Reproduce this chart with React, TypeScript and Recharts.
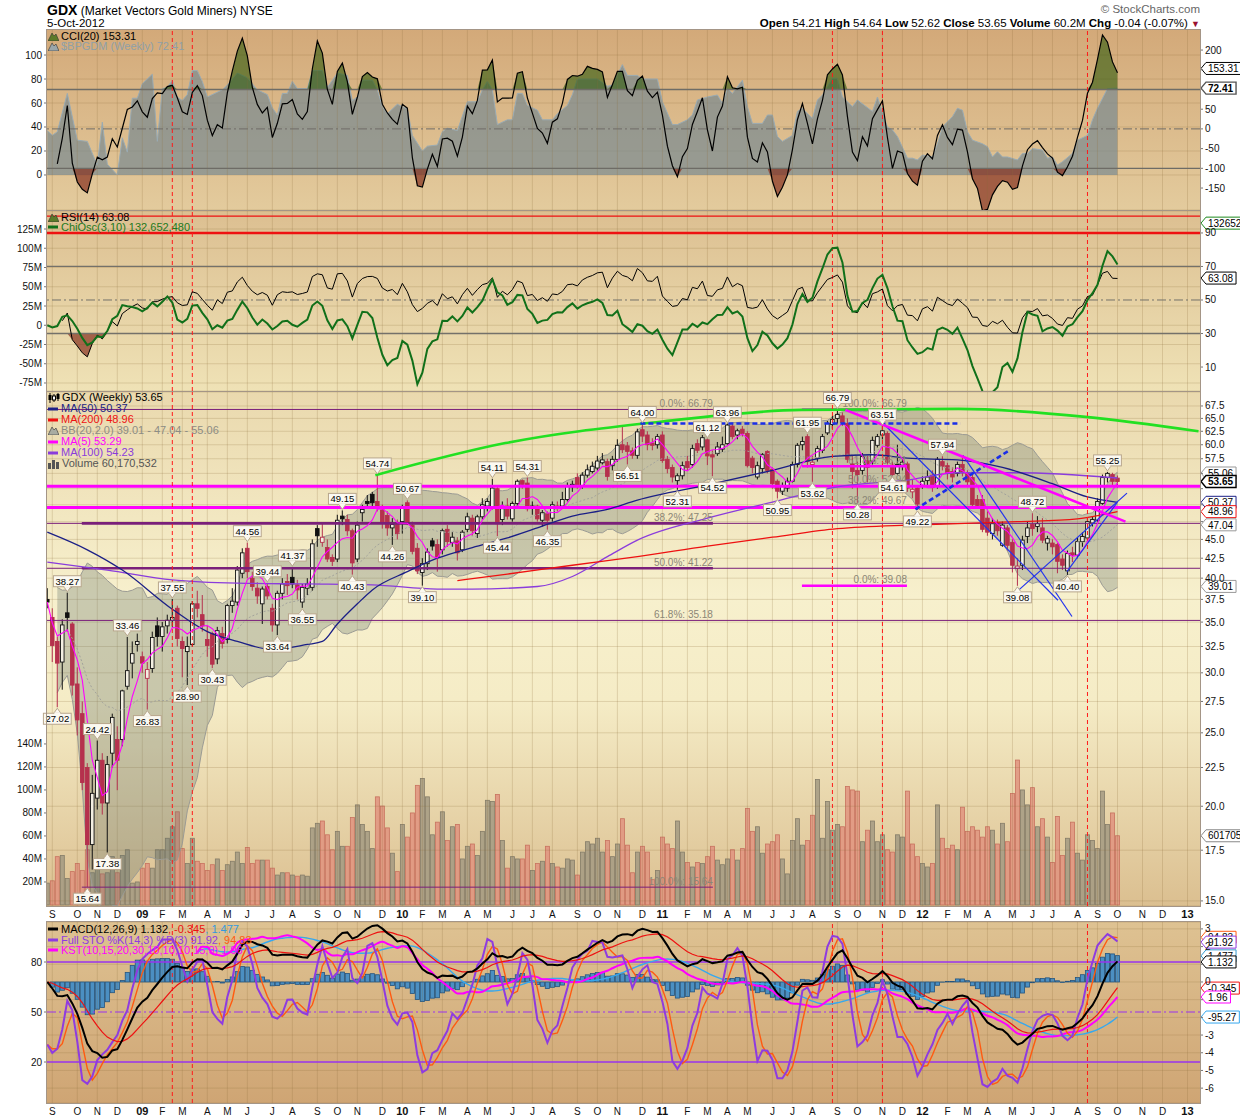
import React from 'react';
import {
  ComposedChart,
  Line,
  Area,
  Bar,
  XAxis,
  YAxis,
  CartesianGrid,
  ReferenceLine,
  ReferenceDot,
} from 'recharts';

document.body.style.margin = '0';

const FONT = '"Liberation Sans", Arial, sans-serif';

// Weekly GDX bars. Week 0 = 29-Aug-2008, week 214 = 5-Oct-2012
const opens = [
  37.5, 35.5, 33.0, 31.0, 36.0, 34.8, 29.0, 26.5, 22.5, 17.8,
  20.5, 23.0, 20.2, 23.5, 24.5, 24.5, 28.8, 30.9, 32.7, 31.5,
  29.5, 30.4, 34.6, 33.5, 34.6, 35.2, 36.5, 33.0, 32.0, 32.7,
  37.0, 35.8, 33.2, 33.8, 31.3, 33.8, 33.2, 36.8, 37.2, 40.6,
  43.8, 40.0, 38.8, 37.0, 39.0, 36.5, 34.7, 38.2, 39.6, 40.1,
  39.2, 37.2, 38.8, 38.9, 46.5, 44.6, 43.9, 42.6, 42.4, 48.3,
  47.8, 46.2, 42.4, 48.8, 50.5, 51.6, 50.5, 49.2, 48.4, 46.6,
  47.3, 47.5, 50.3, 47.0, 43.8, 40.7, 41.8, 44.8, 44.3, 43.6,
  46.4, 44.6, 44.8, 43.6, 46.4, 48.0, 45.8, 48.2, 49.8, 49.5,
  52.5, 47.8, 49.8, 47.9, 50.2, 53.8, 53.4, 49.6, 49.8, 47.7,
  48.7, 48.0, 49.4, 49.8, 50.8, 52.8, 54.3, 53.0, 54.7, 55.3,
  55.9, 56.8, 57.0, 56.3, 57.4, 60.0, 59.8, 58.9, 58.1, 62.8,
  61.8, 60.3, 60.0, 61.8, 57.4, 56.0, 53.8, 54.6, 57.0, 56.5,
  60.2, 59.6, 60.9, 58.2, 58.4, 59.2, 60.2, 63.5, 61.8, 62.9,
  62.1, 57.6, 54.4, 55.8, 58.8, 55.7, 53.7, 52.1, 52.6, 53.7,
  56.5, 60.0, 61.5, 56.5, 57.6, 59.0, 62.2, 63.8, 65.0, 65.5,
  64.0, 56.6, 55.5, 55.5, 57.2, 57.1, 59.9, 61.8, 62.1, 56.4,
  55.0, 56.4, 56.6, 52.0, 52.6, 53.0, 53.8, 54.7, 52.9, 57.0,
  56.3, 55.3, 55.0, 56.5, 55.0, 54.3, 50.8, 50.8, 48.0, 45.8,
  47.3, 44.2, 46.6, 44.6, 41.2, 41.6, 45.4, 47.1, 46.8, 46.6,
  44.5, 44.5, 44.3, 42.4, 40.9, 43.2, 42.9, 44.7, 45.2, 47.3,
  47.7, 50.2, 54.3, 54.8, 54.21,
];
const highs = [
  38.8, 36.5, 33.5, 35.3, 38.27, 35.0, 30.5, 27.5, 22.8, 22.0,
  24.42, 23.5, 23.3, 26.5, 25.5, 28.5, 33.46, 33.0, 33.8, 32.0,
  31.0, 34.0, 35.5, 35.0, 35.8, 37.55, 36.8, 33.5, 33.5, 37.3,
  38.5, 38.0, 34.6, 34.0, 34.5, 34.5, 37.0, 38.8, 41.5, 43.8,
  44.56, 40.8, 39.5, 39.0, 39.44, 37.0, 38.5, 40.0, 40.5, 41.37,
  39.8, 39.3, 40.0, 45.0, 47.0, 47.3, 45.0, 43.0, 48.5, 49.15,
  48.5, 46.5, 47.5, 50.0, 51.5, 52.0, 54.74, 50.0, 49.0, 48.0,
  47.8, 50.0, 50.67, 47.5, 44.5, 42.5, 43.8, 45.2, 45.0, 46.5,
  47.0, 46.0, 45.3, 46.3, 48.8, 48.5, 48.5, 51.0, 51.0, 54.11,
  53.0, 50.5, 51.0, 50.5, 54.0, 54.0, 54.31, 50.5, 50.0, 49.2,
  49.0, 50.5, 50.5, 52.0, 53.5, 53.8, 55.0, 55.2, 56.5, 57.0,
  58.0, 58.5, 57.5, 58.0, 61.0, 63.6, 60.5, 59.5, 63.0, 64.0,
  62.5, 61.2, 62.0, 62.5, 58.0, 56.5, 55.0, 57.0, 58.0, 60.0,
  61.0, 61.8, 61.12, 59.0, 60.5, 61.5, 63.96, 63.9, 63.0, 63.5,
  62.5, 58.0, 57.0, 58.5, 59.0, 56.0, 54.0, 53.5, 54.3, 57.0,
  60.3, 61.5, 61.95, 58.0, 59.8, 62.0, 64.5, 65.5, 66.79, 66.2,
  65.0, 58.0, 57.0, 58.5, 58.0, 61.5, 62.0, 63.51, 62.5, 57.0,
  60.0, 57.5, 57.0, 54.0, 53.0, 54.5, 55.5, 55.5, 57.8, 57.94,
  56.8, 56.0, 57.0, 58.0, 55.5, 55.0, 51.5, 51.5, 49.0, 48.0,
  47.8, 47.5, 47.0, 45.0, 42.5, 45.5, 47.5, 48.72, 48.3, 48.0,
  45.5, 45.0, 44.5, 43.0, 43.5, 44.0, 45.3, 46.0, 48.0, 48.3,
  51.0, 54.8, 55.25, 55.1, 54.64,
];
const lows = [
  36.5, 31.0, 27.02, 28.5, 34.0, 28.0, 24.8, 21.0, 15.64, 16.5,
  19.8, 19.5, 17.38, 22.5, 21.0, 24.0, 28.5, 29.5, 32.0, 30.0,
  26.83, 30.0, 32.5, 32.0, 33.8, 34.5, 32.5, 29.6, 28.9, 32.5,
  35.5, 34.0, 31.5, 30.43, 30.8, 32.3, 32.8, 36.0, 36.8, 40.0,
  40.0, 38.5, 37.0, 34.8, 37.5, 34.0, 33.64, 37.5, 38.0, 38.8,
  37.5, 36.55, 38.0, 38.5, 44.0, 44.0, 42.0, 41.5, 42.0, 47.0,
  45.5, 40.43, 42.0, 47.5, 49.5, 49.5, 49.0, 46.5, 45.5, 44.26,
  45.0, 45.8, 47.0, 43.0, 40.5, 39.1, 41.0, 43.5, 40.8, 43.0,
  44.0, 44.0, 42.2, 43.3, 46.0, 45.5, 45.2, 47.8, 49.0, 49.3,
  45.44, 47.0, 47.8, 47.5, 49.8, 52.5, 49.0, 48.5, 47.5, 46.8,
  46.35, 47.5, 49.0, 49.5, 50.5, 52.0, 52.5, 52.5, 54.3, 55.0,
  55.5, 56.5, 53.8, 55.5, 57.0, 58.5, 56.51, 57.5, 57.5, 60.5,
  59.0, 59.0, 59.3, 56.8, 55.0, 53.5, 52.31, 54.0, 55.5, 56.0,
  58.5, 59.0, 56.4, 54.52, 58.0, 58.7, 60.0, 61.0, 61.0, 61.5,
  56.0, 55.0, 54.0, 55.0, 55.0, 52.5, 50.95, 51.5, 52.0, 53.5,
  56.0, 59.0, 56.0, 53.62, 57.0, 58.5, 61.8, 63.0, 64.0, 63.5,
  56.8, 52.5, 50.28, 54.8, 53.5, 56.5, 59.5, 61.0, 56.5, 54.61,
  54.8, 55.5, 52.0, 51.0, 49.22, 52.5, 53.0, 52.0, 52.5, 55.5,
  54.0, 53.5, 54.5, 54.5, 53.0, 49.5, 49.5, 46.0, 45.5, 45.0,
  45.5, 44.0, 43.5, 40.7, 39.08, 41.0, 44.5, 45.5, 46.0, 44.5,
  43.5, 43.0, 40.6, 41.0, 40.4, 42.0, 42.5, 44.0, 45.0, 46.8,
  47.5, 50.0, 53.5, 52.8, 52.62,
];
const closes = [
  37.2, 32.6, 30.9, 34.7, 35.5, 28.9, 26.0, 21.5, 17.8, 20.8,
  23.0, 20.2, 22.7, 26.2, 23.0, 28.4, 30.2, 31.8, 33.0, 30.9,
  30.3, 33.4, 33.5, 34.5, 35.2, 35.5, 33.3, 32.3, 32.5, 37.0,
  36.5, 34.6, 32.6, 30.8, 34.1, 32.8, 36.8, 37.3, 41.0, 43.2,
  40.8, 39.0, 37.9, 38.7, 37.9, 34.7, 38.2, 39.3, 39.1, 39.3,
  38.6, 38.9, 39.3, 44.4, 45.5, 45.3, 42.4, 42.1, 47.7, 47.9,
  46.2, 41.9, 47.0, 49.3, 50.2, 50.3, 49.8, 47.4, 46.6, 47.1,
  45.8, 49.5, 47.3, 43.4, 40.9, 41.8, 43.3, 44.1, 42.6, 46.2,
  44.7, 45.3, 43.2, 46.0, 48.2, 46.2, 48.2, 50.0, 50.5, 52.6,
  47.2, 49.4, 48.3, 50.2, 53.7, 53.2, 49.4, 49.8, 47.9, 48.8,
  47.7, 50.0, 49.8, 50.8, 53.0, 53.2, 52.8, 54.7, 55.6, 56.2,
  57.1, 57.3, 54.5, 57.4, 59.9, 59.1, 58.8, 58.1, 62.4, 61.6,
  60.0, 59.9, 61.5, 57.2, 55.8, 54.4, 54.6, 56.3, 56.0, 59.3,
  59.0, 61.3, 58.0, 57.8, 59.6, 60.0, 63.7, 61.5, 62.6, 62.1,
  56.3, 56.0, 56.3, 58.2, 55.5, 53.3, 52.1, 52.9, 53.7, 56.5,
  59.9, 60.6, 57.0, 56.9, 59.3, 61.5, 64.0, 64.8, 65.8, 64.2,
  57.4, 55.3, 54.8, 57.9, 56.0, 60.8, 61.5, 62.6, 56.9, 54.8,
  56.5, 56.9, 52.6, 52.4, 50.1, 53.7, 54.4, 52.7, 57.4, 56.2,
  55.0, 54.4, 56.5, 55.1, 53.6, 50.0, 49.9, 46.4, 46.0, 47.2,
  46.2, 47.0, 44.2, 41.6, 41.5, 44.9, 46.6, 46.5, 47.2, 44.9,
  45.1, 44.0, 42.1, 41.6, 43.1, 42.9, 44.7, 45.4, 47.5, 47.8,
  50.5, 54.3, 55.0, 53.69, 53.65,
];
// millions of shares
const volumes = [
  19, 21, 42, 43, 23, 29, 36, 30, 48, 28,
  35, 27, 28, 42, 28, 43, 48, 19, 20, 32,
  36, 32, 48, 48, 58, 68, 81, 49, 36, 58,
  38, 36, 30, 35, 40, 30, 35, 38, 46, 36,
  50, 36, 39, 39, 39, 32, 26, 28, 28, 26,
  25, 26, 25, 67, 71, 73, 61, 48, 64, 51,
  51, 76, 87, 70, 64, 49, 94, 86, 67, 45,
  29, 70, 59, 80, 104, 110, 94, 61, 72, 81,
  56, 68, 70, 40, 51, 53, 43, 64, 91, 90,
  96, 56, 32, 42, 40, 40, 52, 30, 36, 38,
  51, 36, 33, 32, 40, 39, 26, 46, 55, 53,
  58, 46, 56, 42, 53, 75, 52, 28, 46, 51,
  46, 22, 30, 59, 53, 49, 73, 46, 37, 33,
  37, 36, 42, 51, 39, 35, 40, 48, 39, 49,
  84, 64, 68, 45, 53, 55, 61, 40, 27, 56,
  75, 52, 56, 78, 109, 58, 90, 65, 70, 68,
  103, 100, 99, 55, 65, 73, 55, 61, 48, 46,
  61, 59, 99, 53, 42, 36, 33, 36, 87, 58,
  49, 52, 48, 85, 64, 68, 65, 59, 68, 65,
  53, 71, 55, 97, 126, 100, 87, 102, 68, 75,
  59, 37, 77, 43, 58, 72, 45, 39, 61, 56,
  49, 99, 70, 80, 60.17,
];

// $BPGDM weekly readings [week, percent]
const bpgdmPoints: [number, number][] = [
  [0, 37], [1, 33], [2, 36], [4, 68], [6, 29], [8, 28], [10, 8], [11, 44], [12, 9], [14, 0],
  [15, 31], [16, 19], [17, 64], [18, 64], [19, 76], [21, 84], [22, 28], [23, 72], [24, 73], [25, 79],
  [26, 65], [27, 62], [28, 67], [29, 87], [30, 87], [31, 78], [32, 65], [35, 71], [36, 75], [38, 85],
  [40, 81], [42, 71], [44, 67], [45, 56], [46, 50], [47, 68], [48, 68], [49, 78], [50, 72], [52, 72],
  [53, 87], [55, 87], [56, 73], [58, 85], [60, 83], [61, 62], [62, 65], [63, 79], [65, 79], [66, 71],
  [67, 57], [68, 51], [70, 59], [72, 55], [73, 33], [75, 20], [76, 24], [78, 25], [79, 36], [80, 39],
  [82, 37], [84, 61], [86, 61], [87, 71], [88, 78], [89, 71], [90, 42], [92, 46], [93, 46], [94, 68],
  [95, 68], [96, 58], [98, 54], [99, 46], [101, 46], [102, 51], [104, 58], [105, 67], [106, 80], [110, 80],
  [112, 74], [113, 75], [115, 92], [116, 83], [118, 83], [119, 80], [122, 80], [123, 61], [125, 42], [126, 42],
  [128, 46], [129, 50], [130, 62.5], [132, 65], [134, 66.7], [135, 59.7], [136, 72], [137, 68], [139, 79], [140, 57],
  [141, 43], [143, 43], [144, 50], [145, 50], [146, 32], [147, 28], [149, 33], [150, 53], [151, 55.6], [153, 47],
  [154, 62.5], [155, 66.7], [157, 80.6], [158, 80.6], [159, 65], [161, 57], [162, 62.5], [165, 53], [166, 65], [168, 40],
  [169, 37.5], [170, 32], [172, 14], [173, 14], [174, 12.5], [175, 16.7], [177, 15], [178, 26], [179, 40], [181, 48.6],
  [182, 55.6], [183, 54], [184, 36], [185, 29], [187, 26], [188, 23.6], [189, 15], [190, 19.4], [191, 15], [192, 15],
  [194, 12.5], [195, 18], [196, 18], [197, 22], [199, 20.8], [200, 14], [201, 15], [202, 8.3], [203, 11], [205, 18],
  [206, 29], [208, 33], [209, 46], [210, 55.6], [212, 72], [214, 72.41],
];

// moving averages [week, price]
const ma50Points: [number, number][] = [
  [0, 46.0], [8, 43.6], [15, 41.0], [25, 36.4], [32, 34.0], [38, 33.0], [45, 32.2], [52, 32.7], [55, 33.0],
  [58, 34.8], [62, 37.0], [65, 38.6], [72, 40.8], [78, 42.5], [85, 43.9], [92, 45.2], [98, 46.6], [105, 48.3],
  [112, 49.3], [118, 50.7], [132, 53.1], [145, 55.5], [157, 57.9], [165, 58.2], [172, 57.6], [182, 57.3],
  [191, 56.0], [201, 53.3], [208, 51.2], [214, 50.37],
];
const ma100Points: [number, number][] = [
  [0, 42.0], [12, 41.0], [25, 39.8], [38, 39.4], [52, 39.3], [65, 39.2], [78, 38.7], [85, 38.7], [98, 39.0],
  [105, 40.2], [112, 42.7], [118, 44.9], [132, 48.0], [145, 50.4], [158, 52.8], [172, 53.9], [182, 55.1],
  [194, 55.1], [214, 54.23],
];
const ma200Points: [number, number][] = [
  [82, 39.7], [92, 40.5], [105, 41.6], [118, 42.7], [132, 44.1], [145, 45.3], [158, 46.5], [172, 47.0],
  [182, 47.2], [194, 47.5], [206, 47.9], [211, 48.5], [214, 48.96],
];

// price flags [week, text]
const highTags: [number, string][] = [
  [4, '38.27'], [10, '24.42'], [16, '33.46'], [25, '37.55'], [40, '44.56'], [44, '39.44'], [49, '41.37'],
  [59, '49.15'], [66, '54.74'], [72, '50.67'], [89, '54.11'], [96, '54.31'], [119, '64.00'], [132, '61.12'],
  [136, '63.96'], [152, '61.95'], [158, '66.79'], [167, '63.51'], [179, '57.94'], [197, '48.72'], [212, '55.25'],
];
const lowTags: [number, string][] = [
  [2, '27.02'], [8, '15.64'], [12, '17.38'], [20, '26.83'], [28, '28.90'], [33, '30.43'], [46, '33.64'],
  [51, '36.55'], [61, '40.43'], [69, '44.26'], [75, '39.10'], [90, '45.44'], [100, '46.35'], [116, '56.51'],
  [126, '52.31'], [133, '54.52'], [146, '50.95'], [153, '53.62'], [162, '50.28'], [169, '54.61'],
  [174, '49.22'], [194, '39.08'], [204, '40.40'],
];

// hand drawn annotations, in [week, price]
const greenArc: [number, number][] = [
  [65.6, 54.7], [91.6, 60.3], [122.2, 64.3], [150.8, 66.7], [182.2, 66.9], [207.6, 65.3], [230.2, 62.5],
];
const blueLines: [number, number, number, number][] = [
  [167.1, 64.1, 202.1, 37.4],
  [183.1, 58.1, 204.9, 35.6],
  [193.9, 38.4, 215.9, 51.8],
  [203.9, 40.8, 213.9, 50.3],
];
const blueDashed: [number, number, number, number][] = [
  [118.6, 64.0, 182.6, 64.0],
  [173.6, 49.3, 192.4, 59.0],
];
const magentaDiagonal: [number, number, number, number] = [159.6, 66.7, 215.6, 47.5];
const magentaLevels = [52.9, 49.6];
const fibA = [
  { price: 66.79, text: '0.0%: 66.79' },
  { price: 47.25, text: '38.2%: 47.25' },
  { price: 41.22, text: '50.0%: 41.22' },
  { price: 35.18, text: '61.8%: 35.18' },
  { price: 15.64, text: '100.0%: 15.64' },
];
const fibB = [
  { price: 66.79, text: '100.0%: 66.79' },
  { price: 56.21, text: '61.8%: 56.21' },
  { price: 52.94, text: '50.0%: 52.94' },
  { price: 49.67, text: '38.2%: 49.67' },
  { price: 39.08, text: '0.0%: 39.08' },
];
const markerWeeks = [25, 29, 157, 167, 208];

const monthLetters = ['J', 'F', 'M', 'A', 'M', 'J', 'J', 'A', 'S', 'O', 'N', 'D'];
const priceTicks = [15, 17.5, 20, 22.5, 25, 27.5, 30, 32.5, 35, 37.5, 40, 42.5, 45, 47.5, 50, 52.5, 55, 57.5, 60, 62.5, 65, 67.5];
const volumeTicks = [20, 40, 60, 80, 100, 120, 140];
const bpTicks = [0, 20, 40, 60, 80, 100];
const cciTicks = [-150, -100, -50, 0, 50, 100, 150, 200];
const chiTicks = [-75, -50, -25, 0, 25, 50, 75, 100, 125];
const rsiTicks = [10, 30, 50, 70, 90];
const stoTicks = [20, 50, 80];
const macdTicks = [-6, -5, -4, -3, -2, -1, 0, 1, 2, 3];

// ---------- derived series (standard indicator definitions) ----------
const N = closes.length;
const LAST_WEEK = 230;
const X_DOMAIN: [number, number] = [-0.06, 230.5];
const START = Date.UTC(2008, 7, 29);
const DAY = 86400000;

const mean = (a: number[]) => a.reduce((s, v) => s + v, 0) / a.length;
function smaPartial(src: (number | null)[], p: number): (number | null)[] {
  return src.map((_, i) => {
    const w = src.slice(Math.max(0, i - p + 1), i + 1).filter((v): v is number => v != null);
    return w.length ? mean(w) : null;
  });
}
function ema(src: number[], p: number): number[] {
  const k = 2 / (p + 1);
  const out: number[] = [];
  src.forEach((v, i) => out.push(i === 0 ? v : v * k + out[i - 1] * (1 - k)));
  return out;
}

const ma5 = smaPartial(closes, 5);
const bb = closes.map((_, i) => {
  const w = closes.slice(Math.max(0, i - 19), i + 1);
  if (w.length < 3) return null;
  const m = mean(w);
  const sd = Math.sqrt(mean(w.map((x) => (x - m) ** 2)));
  return { mid: m, up: m + 2 * sd, lo: Math.max(m - 2 * sd, 8) };
});
const typical = closes.map((c, i) => (highs[i] + lows[i] + c) / 3);
const cci = typical.map((t, i) => {
  const w = typical.slice(Math.max(0, i - 19), i + 1);
  if (w.length < 3) return null;
  const m = mean(w);
  const md = mean(w.map((x) => Math.abs(x - m)));
  return md ? (t - m) / (0.015 * md) : 0;
});
const rsi: (number | null)[] = [];
{
  let ag = 0;
  let al = 0;
  closes.forEach((c, i) => {
    if (i === 0) {
      rsi.push(null);
      return;
    }
    const d = c - closes[i - 1];
    const g = Math.max(d, 0);
    const l = Math.max(-d, 0);
    if (i <= 14) {
      ag = (ag * (i - 1) + g) / i;
      al = (al * (i - 1) + l) / i;
    } else {
      ag = (ag * 13 + g) / 14;
      al = (al * 13 + l) / 14;
    }
    rsi.push(i < 3 ? null : al === 0 ? 100 : 100 - 100 / (1 + ag / al));
  });
}
let adl = 0;
const adlLine = closes.map((c, i) => {
  const range = highs[i] - lows[i];
  adl += range > 0 ? ((c - lows[i] - (highs[i] - c)) / range) * volumes[i] : 0;
  return adl;
});
const adl3 = ema(adlLine, 3);
const adl10 = ema(adlLine, 10);
const chiOsc = adlLine.map((_, i) => adl3[i] - adl10[i]);

const ema12 = ema(closes, 12);
const ema26 = ema(closes, 26);
const macd = closes.map((_, i) => ema12[i] - ema26[i]);
const macdSignal = ema(macd, 9);
const macdHist = macd.map((m, i) => m - macdSignal[i]);

const rawK = closes.map((c, i) => {
  const s = Math.max(0, i - 13);
  const hh = Math.max(...highs.slice(s, i + 1));
  const ll = Math.min(...lows.slice(s, i + 1));
  return hh === ll ? 50 : (100 * (c - ll)) / (hh - ll);
});
const stoK = smaPartial(rawK, 3);
const stoD = smaPartial(stoK, 3);

const roc = (p: number) => closes.map((c, i) => (i >= p ? 100 * (c / closes[i - p] - 1) : null));
const rc1 = smaPartial(roc(10), 10);
const rc2 = smaPartial(roc(15), 10);
const rc3 = smaPartial(roc(20), 10);
const rc4 = smaPartial(roc(30), 15);
const kst = closes.map((_, i) => {
  const a = rc1[i], b = rc2[i], c = rc3[i], d = rc4[i];
  return a != null && b != null && c != null && d != null ? a + 2 * b + 3 * c + 4 * d : null;
});
const kstSignal = smaPartial(kst, 9);
const kstLast = kst[N - 1] as number;
const kstLow = Math.min(...(kst.slice(180).filter((v) => v != null) as number[]));
const kstSpan = (Math.max(kstLast - kstLow, 1) * 181) / 40;
const kstTop = kstLast + (kstSpan * 75) / 181;
const kstDomain: [number, number] = [kstTop - kstSpan, kstTop];

const rows = Array.from({ length: LAST_WEEK + 1 }, (_, i) => {
  if (i >= N) return { i };
  const b = bb[i];
  return {
    i,
    o: opens[i], h: highs[i], l: lows[i], c: closes[i],
    pc: i > 0 ? closes[i - 1] : null,
    v: volumes[i],
    up: i === 0 || closes[i] >= closes[i - 1],
    ma5: ma5[i],
    bbMid: b ? b.mid : null,
    bbUp: b ? b.up : null,
    bbLo: b ? b.lo : null,
    cci: cci[i], rsi: rsi[i], chi: chiOsc[i],
    macd: macd[i], sig: macdSignal[i], hist: macdHist[i],
    k: stoK[i], d: stoD[i], kst: kst[i], kstSig: kstSignal[i],
  };
});

const toXY = (pts: [number, number][]) => pts.map(([i, v]) => ({ i, v }));

// month marks sit on the first bar whose week starts in a new month
const monthTicks: number[] = [];
const tickLabels: Record<number, string> = {};
for (let i = 1; i <= LAST_WEEK; i++) {
  const d = new Date(START + i * 7 * DAY - 4 * DAY);
  const p = new Date(START + (i - 1) * 7 * DAY - 4 * DAY);
  if (d.getUTCMonth() !== p.getUTCMonth()) {
    monthTicks.push(i);
    tickLabels[i] = d.getUTCMonth() === 0 ? String(d.getUTCFullYear()).slice(2) : monthLetters[d.getUTCMonth()];
  }
}

const GRID = 'rgba(140,110,60,0.22)';
const charW = (s: string, size: number) =>
  [...s].reduce((w, ch) => w + (ch === '.' || ch === ',' || ch === ' ' || ch === ':' ? 0.28 : ch === '-' ? 0.33 : ch === '%' ? 0.89 : 0.556) * size, 0);

// ---------- small render helpers ----------
const rightTick = (hidden: number[] = [], fmt = (v: number) => String(v)) => (p: any) => {
  const v = p.payload.value;
  if (hidden.includes(v)) return <g />;
  return (
    <text x={p.x} y={p.y} dy={3.5} fontSize={10} fontFamily={FONT} fill="#111" textAnchor="start">
      {fmt(v)}
    </text>
  );
};
const leftTick = (fmt = (v: number) => String(v)) => (p: any) => (
  <text x={p.x} y={p.y} dy={3.5} fontSize={10} fontFamily={FONT} fill="#111" textAnchor="end">
    {fmt(p.payload.value)}
  </text>
);
const MonthTick = (p: any) => {
  const lab = tickLabels[p.payload.value] || '';
  const year = /^\d/.test(lab);
  return (
    <text x={p.x} y={p.y + 12} textAnchor="middle" fontSize={year ? 11 : 10} fontWeight={year ? 'bold' : 'normal'} fontFamily={FONT} fill="#111">
      {lab}
    </text>
  );
};

function ValueBox(props: any) {
  const { viewBox, text, color = '#999', bold = false } = props;
  if (!viewBox) return null;
  const x0 = viewBox.x + viewBox.width;
  const cy = viewBox.y;
  const w = charW(text, 10) + 5;
  return (
    <g>
      <path
        d={`M${x0 + 1},${cy} L${x0 + 6},${cy - 6} H${x0 + 6 + w} V${cy + 6} H${x0 + 6} Z`}
        fill="#fff"
        stroke={color}
        strokeWidth={bold ? 1.4 : 1}
      />
      <text x={x0 + 8} y={cy + 3.7} fontSize={10} fontWeight={bold ? 'bold' : 'normal'} fontFamily={FONT} fill="#000">
        {text}
      </text>
    </g>
  );
}

function PriceTag({ cx, cy, text, above }: { cx: number; cy: number; text: string; above: boolean }) {
  if (cx == null || cy == null) return null;
  const w = charW(text, 9.5) + 4;
  const h = 11;
  const base = above ? cy - 6 : cy + 6;
  const top = above ? base - h : base;
  const tip = above ? cy - 1 : cy + 1;
  return (
    <g>
      <rect x={cx - w / 2} y={top} width={w} height={h} fill="#fbf9f1" stroke="#b8a68c" strokeWidth={1} />
      <path d={`M${cx - 3.5},${base} L${cx},${tip} L${cx + 3.5},${base} Z`} fill="#fbf9f1" stroke="#b8a68c" strokeWidth={1} />
      <line x1={cx - 3} x2={cx + 3} y1={base} y2={base} stroke="#fbf9f1" strokeWidth={1.5} />
      <text x={cx} y={top + 9} textAnchor="middle" fontSize={9.5} fontFamily={FONT} fill="#000">
        {text}
      </text>
    </g>
  );
}

function Candle(props: any) {
  const { x, y, width, height, payload } = props;
  if (!payload || payload.c == null || !isFinite(y) || !isFinite(height)) return <g />;
  const { o, h, l, c, pc } = payload;
  const lh = Math.log(h);
  const span = lh - Math.log(l) || 1;
  const at = (v: number) => y + (height * (lh - Math.log(v))) / span;
  const cx = x + width / 2;
  const color = pc == null || c >= pc ? '#111' : '#b5314d';
  const top = at(Math.max(o, c));
  const bodyH = Math.max(at(Math.min(o, c)) - top, 1);
  return (
    <g>
      <line x1={cx} x2={cx} y1={y} y2={y + height} stroke={color} strokeWidth={1} />
      <rect x={cx - 1.8} y={top} width={3.6} height={bodyH} fill={c < o ? color : '#f3efe2'} stroke={color} strokeWidth={0.9} />
    </g>
  );
}

function VolumeBar(props: any) {
  const { x, y, width, height, payload } = props;
  if (!payload || payload.v == null || !(height > 0)) return <g />;
  const up = payload.up;
  return (
    <rect
      x={x + 0.5}
      y={y}
      width={Math.max(width - 1, 1)}
      height={height}
      fill={up ? '#a39a83' : '#e0937f'}
      fillOpacity={0.85}
      stroke={up ? '#847c68' : '#c8725f'}
      strokeWidth={0.8}
    />
  );
}

function HistBar(props: any) {
  const { x, y, width, height } = props;
  if (!isFinite(y) || !isFinite(height)) return <g />;
  const yy = height < 0 ? y + height : y;
  return <rect x={x + 0.4} y={yy} width={Math.max(width - 0.8, 1)} height={Math.abs(height)} fill="#4b8fc2" stroke="#23547f" strokeWidth={0.8} />;
}

const FibText = (text: string) => (p: any) =>
  p.cx == null ? <g /> : (
    <text x={p.cx} y={p.cy - 2.5} textAnchor="end" fontSize={10} fontFamily={FONT} fill="#8b8676">
      {text}
    </text>
  );

const monthLines = (axisId: string) =>
  monthTicks.map((t) => <ReferenceLine key={`m${t}`} x={t} yAxisId={axisId} stroke={GRID} strokeWidth={1} />);
const markerLines = (axisId: string) =>
  markerWeeks.map((w) => (
    <ReferenceLine key={`r${w}`} x={w} yAxisId={axisId} stroke="#ff1a1a" strokeWidth={1} strokeDasharray="4 3" />
  ));

const cciHigh = (r: any) => (r.cci == null ? null : [100, Math.max(100, r.cci)]);
const cciLow = (r: any) => (r.cci == null ? null : [Math.min(-100, r.cci), -100]);
const rsiLow = (r: any) => (r.rsi == null ? null : [Math.min(30, r.rsi), 30]);
const bbRange = (r: any) => (r.bbLo == null ? null : [r.bbLo, r.bbUp]);
const candleRange = (r: any) => (r.c == null ? null : [r.l, r.h]);

const noMargin = { top: 0, right: 0, bottom: 0, left: 0 };
const axisCommon = { allowDataOverflow: true, interval: 0 as const, tickSize: 3, tickMargin: 2, tickLine: { stroke: '#777' }, axisLine: false };

// ---------- panels ----------
function CciPanel() {
  return (
    <ComposedChart width={1240} height={181} data={rows} margin={noMargin}>
      <XAxis type="number" dataKey="i" domain={X_DOMAIN} allowDataOverflow hide />
      <YAxis yAxisId="bp" width={47} domain={[-29.2, 121.7]} ticks={bpTicks} tick={leftTick()} {...axisCommon} />
      <YAxis yAxisId="cci" orientation="right" width={40} domain={[-205.7, 253.4]} ticks={cciTicks} tick={rightTick([100, 150])} {...axisCommon} />
      <CartesianGrid yAxisId="bp" vertical={false} stroke={GRID} />
      {monthLines('bp')}
      <Area data={toXY(bpgdmPoints)} dataKey="v" yAxisId="bp" type="linear" baseValue={0} stroke="#9aabb3" strokeWidth={1} fill="#7b8b90" fillOpacity={0.72} isAnimationActive={false} />
      <Area dataKey={cciHigh} yAxisId="cci" type="linear" stroke="none" fill="#2f5a0c" fillOpacity={0.6} isAnimationActive={false} />
      <Area dataKey={cciLow} yAxisId="cci" type="linear" stroke="none" fill="#86301f" fillOpacity={0.7} isAnimationActive={false} />
      <ReferenceLine yAxisId="cci" y={100} stroke="#6e6c66" strokeWidth={1.3} />
      <ReferenceLine yAxisId="cci" y={-100} stroke="#6e6c66" strokeWidth={1.3} />
      <ReferenceLine yAxisId="cci" y={0} stroke="#6e6c66" strokeDasharray="9 3 2 3" />
      {markerLines('bp')}
      <Line dataKey="cci" yAxisId="cci" type="linear" stroke="#000" strokeWidth={1.2} dot={false} isAnimationActive={false} />
      <ReferenceLine yAxisId="cci" y={153.31} stroke="none" label={<ValueBox text="153.31" color="#000" />} />
      <ReferenceLine yAxisId="bp" y={72.41} stroke="none" label={<ValueBox text="72.41" color="#555" bold />} />
    </ComposedChart>
  );
}

function RsiPanel() {
  return (
    <ComposedChart width={1240} height={180} data={rows} margin={noMargin}>
      <XAxis type="number" dataKey="i" domain={X_DOMAIN} allowDataOverflow hide />
      <YAxis yAxisId="chi" width={47} domain={[-85.4, 148.4]} ticks={chiTicks} tick={leftTick((v) => (v === 0 ? '0' : `${v}M`))} {...axisCommon} />
      <YAxis yAxisId="rsi" orientation="right" width={40} domain={[-4.3, 103.1]} ticks={rsiTicks} tick={rightTick()} {...axisCommon} />
      <CartesianGrid yAxisId="chi" vertical={false} stroke={GRID} />
      {monthLines('chi')}
      <Area dataKey={rsiLow} yAxisId="rsi" type="linear" stroke="none" fill="#86301f" fillOpacity={0.7} isAnimationActive={false} />
      <ReferenceLine yAxisId="rsi" y={100} stroke="#ee1111" strokeWidth={1.2} />
      <ReferenceLine yAxisId="rsi" y={90} stroke="#ee1111" strokeWidth={2.5} />
      <ReferenceLine yAxisId="rsi" y={70} stroke="#74716a" strokeWidth={1.3} />
      <ReferenceLine yAxisId="rsi" y={30} stroke="#74716a" strokeWidth={1.3} />
      <ReferenceLine yAxisId="rsi" y={50} stroke="#74716a" strokeDasharray="9 3 2 3" />
      {markerLines('chi')}
      <Line dataKey="rsi" yAxisId="rsi" type="linear" stroke="#000" strokeWidth={1} dot={false} isAnimationActive={false} />
      <Line dataKey="chi" yAxisId="chi" type="linear" stroke="#11701a" strokeWidth={2} dot={false} isAnimationActive={false} />
      <ReferenceLine yAxisId="chi" y={132.65} stroke="none" label={<ValueBox text="132652480" color="#1d8a1d" />} />
      <ReferenceLine yAxisId="rsi" y={63.08} stroke="none" label={<ValueBox text="63.08" color="#000" />} />
    </ComposedChart>
  );
}

function VolumePanel() {
  return (
    <ComposedChart width={1240} height={514} data={rows} margin={{ top: 0, right: 40, bottom: 0, left: 0 }}>
      <XAxis type="number" dataKey="i" domain={X_DOMAIN} allowDataOverflow hide />
      <YAxis yAxisId="vol" width={47} domain={[-0.9, 446]} ticks={volumeTicks} tick={leftTick((v) => `${v}M`)} {...axisCommon} />
      {monthLines('vol')}
      <Bar dataKey="v" yAxisId="vol" barSize={5} shape={VolumeBar} isAnimationActive={false} />
      <ReferenceLine yAxisId="vol" y={60.17} stroke="none" label={<ValueBox text="60170532" color="#888" />} />
    </ComposedChart>
  );
}

function PricePanel() {
  const seg = (a: number, pa: number, b: number, pb: number) => [{ x: a, y: pa }, { x: b, y: pb }];
  return (
    <ComposedChart width={1240} height={530} data={rows} margin={{ top: 0, right: 0, bottom: 0, left: 47 }}>
      <XAxis type="number" dataKey="i" domain={X_DOMAIN} allowDataOverflow ticks={monthTicks} interval={0} height={16} tick={<MonthTick />} tickSize={0} tickMargin={0} tickLine={false} axisLine={false} />
      <YAxis
        yAxisId="price"
        orientation="right"
        width={40}
        scale="log"
        domain={[14.77, 70.43]}
        ticks={priceTicks}
        tick={rightTick([47.5, 50, 52.5, 55], (v) => v.toFixed(1))}
        {...axisCommon}
      />
      <CartesianGrid yAxisId="price" vertical={false} stroke={GRID} />
      <Area dataKey={bbRange} yAxisId="price" type="linear" stroke="#9b9b94" strokeWidth={1} fill="#5f6f6a" fillOpacity={0.3} isAnimationActive={false} />
      <Line dataKey="bbMid" yAxisId="price" type="linear" stroke="#a3a39c" strokeWidth={1} strokeDasharray="2 2" dot={false} isAnimationActive={false} />

      {/* Fibonacci retracements and horizontal levels */}
      {[47.25, 41.22, 35.18].map((p) => (
        <ReferenceLine key={`fl${p}`} yAxisId="price" y={p} stroke="#7a1f7a" strokeWidth={1} />
      ))}
      <ReferenceLine yAxisId="price" segment={seg(-0.06, 66.79, 133.1, 66.79)} stroke="#7a1f7a" strokeWidth={1} />
      <ReferenceLine yAxisId="price" segment={seg(6.9, 15.64, 133.1, 15.64)} stroke="#7a1f7a" strokeWidth={1} />
      <ReferenceLine yAxisId="price" segment={seg(6.9, 47.25, 133.1, 47.25)} stroke="#7a1f7a" strokeWidth={2.6} />
      <ReferenceLine yAxisId="price" segment={seg(6.9, 41.22, 133.1, 41.22)} stroke="#7a1f7a" strokeWidth={2.6} />
      {[66.79, 56.21, 39.08].map((p) => (
        <ReferenceLine key={`fb${p}`} yAxisId="price" segment={seg(150.9, p, 171.9, p)} stroke="#ff00ff" strokeWidth={2.4} />
      ))}
      {magentaLevels.map((p) => (
        <ReferenceLine key={`ml${p}`} yAxisId="price" y={p} stroke="#ff00ff" strokeWidth={3} />
      ))}
      {fibA.map((f) => (
        <ReferenceDot key={`fa${f.price}`} yAxisId="price" x={133.1} y={f.price} r={0} ifOverflow="visible" shape={FibText(f.text)} />
      ))}
      {fibB.map((f) => (
        <ReferenceDot key={`fbt${f.price}`} yAxisId="price" x={171.9} y={f.price} r={0} ifOverflow="visible" shape={FibText(f.text)} />
      ))}

      {/* moving averages */}
      <Line data={toXY(ma100Points)} dataKey="v" yAxisId="price" type="monotone" stroke="#8a3cdc" strokeWidth={1.3} dot={false} isAnimationActive={false} />
      <Line data={toXY(ma200Points)} dataKey="v" yAxisId="price" type="monotone" stroke="#ee1111" strokeWidth={1.3} dot={false} isAnimationActive={false} />
      <Line data={toXY(ma50Points)} dataKey="v" yAxisId="price" type="monotone" stroke="#1b1f86" strokeWidth={1.3} dot={false} isAnimationActive={false} />
      <Line data={toXY(greenArc)} dataKey="v" yAxisId="price" type="monotone" stroke="#22e022" strokeWidth={2.6} dot={false} isAnimationActive={false} />

      {markerLines('price')}

      <Bar dataKey={candleRange} yAxisId="price" barSize={5} shape={Candle} isAnimationActive={false} />
      <Line dataKey="ma5" yAxisId="price" type="linear" stroke="#ff00ff" strokeWidth={1.1} dot={false} isAnimationActive={false} />

      {/* trend lines */}
      {blueLines.map(([a, pa, b, pb]) => (
        <ReferenceLine key={`bl${a}`} yAxisId="price" segment={seg(a, pa, b, pb)} stroke="#2233ee" strokeWidth={1.2} />
      ))}
      {blueDashed.map(([a, pa, b, pb]) => (
        <ReferenceLine key={`bd${a}`} yAxisId="price" segment={seg(a, pa, b, pb)} stroke="#1a2ee8" strokeWidth={2.6} strokeDasharray="5 3" />
      ))}
      <ReferenceLine
        yAxisId="price"
        segment={seg(magentaDiagonal[0], magentaDiagonal[1], magentaDiagonal[2], magentaDiagonal[3])}
        stroke="#ff00ff"
        strokeWidth={2.6}
      />

      {highTags.map(([w, t]) => (
        <ReferenceDot key={`h${w}`} yAxisId="price" x={w} y={highs[w]} r={0} ifOverflow="visible" shape={(p: any) => <PriceTag cx={p.cx} cy={p.cy} text={t} above />} />
      ))}
      {lowTags.map(([w, t]) => (
        <ReferenceDot key={`l${w}`} yAxisId="price" x={w} y={lows[w]} r={0} ifOverflow="visible" shape={(p: any) => <PriceTag cx={p.cx} cy={p.cy} text={t} above={false} />} />
      ))}

      <ReferenceLine yAxisId="price" y={55.06} stroke="none" label={<ValueBox text="55.06" color="#999" />} />
      <ReferenceLine yAxisId="price" y={53.65} stroke="none" label={<ValueBox text="53.65" color="#000" bold />} />
      <ReferenceLine yAxisId="price" y={50.37} stroke="none" label={<ValueBox text="50.37" color="#1b1f86" />} />
      <ReferenceLine yAxisId="price" y={48.96} stroke="none" label={<ValueBox text="48.96" color="#ee1111" />} />
      <ReferenceLine yAxisId="price" y={47.04} stroke="none" label={<ValueBox text="47.04" color="#999" />} />
      <ReferenceLine yAxisId="price" y={39.01} stroke="none" label={<ValueBox text="39.01" color="#999" />} />
    </ComposedChart>
  );
}

function MacdPanel() {
  return (
    <ComposedChart width={1240} height={197} data={rows} margin={noMargin}>
      <XAxis type="number" dataKey="i" domain={X_DOMAIN} allowDataOverflow ticks={monthTicks} interval={0} height={16} tick={<MonthTick />} tickSize={0} tickMargin={0} tickLine={false} axisLine={false} />
      <YAxis yAxisId="sto" width={47} domain={[-4.6, 104]} ticks={stoTicks} tick={leftTick()} {...axisCommon} />
      <YAxis yAxisId="macd" orientation="right" width={40} domain={[-6.84, 3.39]} ticks={macdTicks} tick={rightTick([1, -1, -2])} {...axisCommon} />
      <YAxis yAxisId="zkst" orientation="right" width={0} hide domain={kstDomain} allowDataOverflow />
      <CartesianGrid yAxisId="macd" vertical={false} stroke={GRID} />
      {monthLines('sto')}
      <Bar dataKey="hist" yAxisId="macd" barSize={5} shape={HistBar} isAnimationActive={false} />
      <ReferenceLine yAxisId="sto" y={80} stroke="#9933ee" strokeWidth={1.4} />
      <ReferenceLine yAxisId="sto" y={20} stroke="#9933ee" strokeWidth={1.4} />
      <ReferenceLine yAxisId="sto" y={50} stroke="#9933ee" strokeWidth={1.2} strokeDasharray="9 3 2 3" />
      {markerLines('sto')}
      <Line dataKey="kstSig" yAxisId="zkst" type="monotone" stroke="#36a8ee" strokeWidth={1.4} dot={false} isAnimationActive={false} />
      <Line dataKey="kst" yAxisId="zkst" type="monotone" stroke="#ff00ff" strokeWidth={2} dot={false} isAnimationActive={false} />
      <Line dataKey="d" yAxisId="sto" type="linear" stroke="#ff5a10" strokeWidth={1.4} dot={false} isAnimationActive={false} />
      <Line dataKey="k" yAxisId="sto" type="linear" stroke="#8f3be0" strokeWidth={2} dot={false} isAnimationActive={false} />
      <Line dataKey="sig" yAxisId="macd" type="linear" stroke="#ee1111" strokeWidth={1.2} dot={false} isAnimationActive={false} />
      <Line dataKey="macd" yAxisId="macd" type="linear" stroke="#000" strokeWidth={2} dot={false} isAnimationActive={false} />
      <ReferenceLine yAxisId="sto" y={94.83} stroke="none" label={<ValueBox text="94.83" color="#ff5a10" />} />
      <ReferenceLine yAxisId="sto" y={91.92} stroke="none" label={<ValueBox text="91.92" color="#8f3be0" />} />
      <ReferenceLine yAxisId="macd" y={1.477} stroke="none" label={<ValueBox text="1.477" color="#3399cc" />} />
      <ReferenceLine yAxisId="macd" y={1.132} stroke="none" label={<ValueBox text="1.132" color="#000" />} />
      <ReferenceLine yAxisId="macd" y={-0.345} stroke="none" label={<ValueBox text="-0.345" color="#ee1111" />} />
      <ReferenceLine yAxisId="zkst" y={kstLast} stroke="none" label={<ValueBox text="1.96" color="#ff00ff" />} />
      <ReferenceLine yAxisId="zkst" y={kstSignal[N - 1] as number} stroke="none" label={<ValueBox text="-95.27" color="#36a8ee" />} />
    </ComposedChart>
  );
}

// ---------- legends ----------
const Dash = ({ color }: { color: string }) => (
  <svg width={11} height={8} style={{ marginRight: 2, verticalAlign: 'middle' }}>
    <line x1={0} x2={10} y1={4} y2={4} stroke={color} strokeWidth={3} />
  </svg>
);
const Hill = ({ color }: { color: string }) => (
  <svg width={11} height={9} style={{ marginRight: 2, verticalAlign: 'middle' }}>
    <path d="M0,9 L4,1 L6,4 L8,2 L11,9 Z" fill={color} stroke="#333" strokeWidth={0.6} />
  </svg>
);
const CandleIcon = () => (
  <svg width={12} height={10} style={{ marginRight: 2, verticalAlign: 'middle' }}>
    <line x1={2} x2={2} y1={0} y2={10} stroke="#000" />
    <rect x={0.5} y={2} width={3} height={5} fill="#000" />
    <line x1={6} x2={6} y1={1} y2={9} stroke="#000" />
    <rect x={4.5} y={3} width={3} height={4} fill="#fff" stroke="#000" />
    <line x1={10} x2={10} y1={0} y2={8} stroke="#000" />
    <rect x={8.5} y={1} width={3} height={5} fill="#000" />
  </svg>
);
const BarsIcon = () => (
  <svg width={12} height={10} style={{ marginRight: 2, verticalAlign: 'middle' }}>
    <rect x={0} y={4} width={3} height={6} fill="#555" />
    <rect x={4} y={1} width={3} height={9} fill="#555" />
    <rect x={8} y={3} width={3} height={7} fill="#555" />
  </svg>
);

const legendBox = (top: number): React.CSSProperties => ({
  position: 'absolute',
  left: 48,
  top,
  fontFamily: FONT,
  fontSize: 11,
  lineHeight: '10.5px',
  whiteSpace: 'nowrap',
});
const row = (h: number): React.CSSProperties => ({ height: h, display: 'flex', alignItems: 'center' });

export default function App() {
  return (
    <div style={{ position: 'relative', width: 1240, height: 1119, background: '#fff', overflow: 'hidden', fontFamily: FONT }}>
      {/* header */}
      <div style={{ position: 'absolute', left: 47, top: 2, fontSize: 12, whiteSpace: 'nowrap' }}>
        <span style={{ fontWeight: 'bold', fontSize: 14 }}>GDX</span> (Market Vectors Gold Miners) NYSE
      </div>
      <div style={{ position: 'absolute', left: 47, top: 17, fontSize: 11.5 }}>5-Oct-2012</div>
      <div style={{ position: 'absolute', right: 40, top: 3, fontSize: 11.5, color: '#666' }}>© StockCharts.com</div>
      <div style={{ position: 'absolute', right: 40, top: 17, fontSize: 11.5, whiteSpace: 'nowrap' }}>
        <b>Open</b> 54.21 <b>High</b> 54.64 <b>Low</b> 52.62 <b>Close</b> 53.65 <b>Volume</b> 60.2M <b>Chg</b> -0.04 (-0.07%){' '}
        <span style={{ color: '#9a1030', fontSize: 9 }}>▼</span>
      </div>

      {/* panel backgrounds */}
      <div style={{ position: 'absolute', left: 47, top: 29, width: 1153, height: 181, background: 'linear-gradient(#d3a979, #e3cb9d)' }} />
      <div style={{ position: 'absolute', left: 47, top: 211, width: 1153, height: 180, background: 'linear-gradient(#dcbf91, #efe2b6)' }} />
      <div style={{ position: 'absolute', left: 47, top: 392, width: 1153, height: 514, background: 'linear-gradient(#ead9ae 0%, #f7f0cd 40%, #f5ecc6 60%, #dbbf90 100%)' }} />
      <div style={{ position: 'absolute', left: 47, top: 922, width: 1153, height: 181, background: 'linear-gradient(#dec292, #cfa574)' }} />

      <div style={{ position: 'absolute', left: 0, top: 29 }}>
        <CciPanel />
      </div>
      <div style={{ position: 'absolute', left: 0, top: 211 }}>
        <RsiPanel />
      </div>
      <div style={{ position: 'absolute', left: 0, top: 392 }}>
        <VolumePanel />
      </div>
      <div style={{ position: 'absolute', left: 0, top: 392 }}>
        <PricePanel />
      </div>
      <div style={{ position: 'absolute', left: 0, top: 922 }}>
        <MacdPanel />
      </div>

      {/* frames */}
      {[
        [29, 182],
        [210, 182],
        [391, 516],
        [921, 183],
      ].map(([t, h]) => (
        <div key={t} style={{ position: 'absolute', left: 46, top: t, width: 1155, height: h, border: '1px solid #a49586', boxSizing: 'border-box' }} />
      ))}

      {/* legends */}
      <div style={legendBox(31)}>
        <div style={row(10)}>
          <Hill color="#5c7a2a" />
          <span>CCI(20) 153.31</span>
        </div>
        <div style={{ ...row(10), color: '#8fa0a8' }}>
          <Hill color="#9aa6aa" />
          <span>$BPGDM (Weekly) 72.41</span>
        </div>
      </div>
      <div style={legendBox(212)}>
        <div style={row(10)}>
          <Hill color="#5c7a2a" />
          <span>RSI(14) 63.08</span>
        </div>
        <div style={{ ...row(10), color: '#1d7a1d' }}>
          <Dash color="#11701a" />
          <span>ChiOsc(3,10) 132,652,480</span>
        </div>
      </div>
      <div style={legendBox(392)}>
        <div style={row(11)}>
          <CandleIcon />
          <span>GDX (Weekly) 53.65</span>
        </div>
        <div style={{ ...row(11), color: '#1b1f86' }}>
          <Dash color="#1b1f86" />
          <span>MA(50) 50.37</span>
        </div>
        <div style={{ ...row(11), color: '#ee1111' }}>
          <Dash color="#ee1111" />
          <span>MA(200) 48.96</span>
        </div>
        <div style={{ ...row(11), color: '#8c8c84' }}>
          <Hill color="#a9aca2" />
          <span>BB(20,2.0) 39.01 - 47.04 - 55.06</span>
        </div>
        <div style={{ ...row(11), color: '#ff00ff' }}>
          <Dash color="#ff00ff" />
          <span>MA(5) 53.29</span>
        </div>
        <div style={{ ...row(11), color: '#8a3cdc' }}>
          <Dash color="#8a3cdc" />
          <span>MA(100) 54.23</span>
        </div>
        <div style={{ ...row(11), color: '#555' }}>
          <BarsIcon />
          <span>Volume 60,170,532</span>
        </div>
      </div>
      <div style={legendBox(924)}>
        <div style={row(10.5)}>
          <Dash color="#000" />
          <span>MACD(12,26,9) 1.132</span>
          <span style={{ color: '#ee1111' }}>, -0.345</span>
          <span style={{ color: '#3399dd' }}>, 1.477</span>
        </div>
        <div style={{ ...row(10.5), color: '#8f3be0' }}>
          <Dash color="#8f3be0" />
          <span>Full STO %K(14,3) %D(3) 91.92</span>
          <span style={{ color: '#ff5a10' }}>, 94.83</span>
        </div>
        <div style={{ ...row(10.5), color: '#ff00ff' }}>
          <Dash color="#ff00ff" />
          <span>KST(10,15,20,30,10,10,10,15,9) 1.96</span>
        </div>
      </div>
    </div>
  );
}
